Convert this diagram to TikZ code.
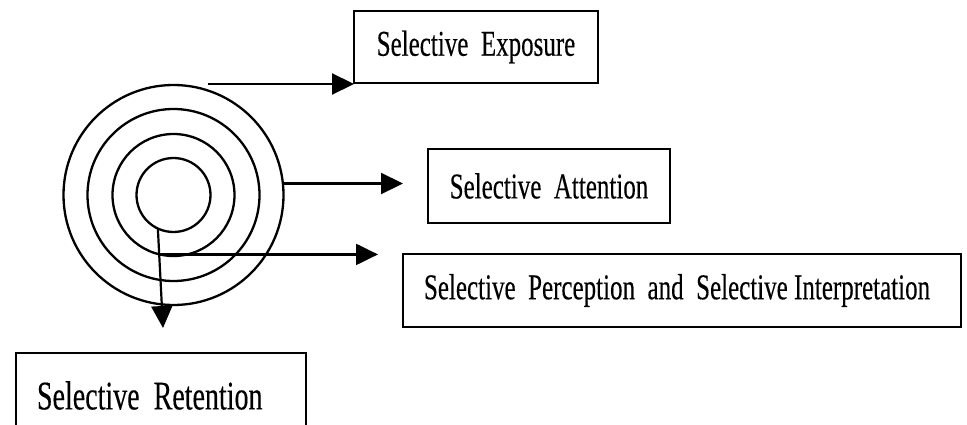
\documentclass[tikz,border=0pt]{standalone}
\usepackage{fontspec}
\usepackage{graphicx}
\setmainfont{Liberation Serif}[FakeBold=0.35]
\usetikzlibrary{arrows.meta}
\newcommand\ws{\hspace{0.5em}}
\newcommand\tall[1]{\scalebox{1}[1.45]{#1}}
\begin{document}
\begin{tikzpicture}[x=1pt,y=-1pt,
  ring/.style={circle, draw, line width=2.3pt, inner sep=0pt, outer sep=0pt},
  labelbox/.style={draw, line width=2.6pt, inner sep=0pt, outer sep=0pt, font=\fontsize{25}{30}\selectfont},
  conn/.style={line width=2.2pt, -{Triangle[length=22pt,width=21pt]}}]
\useasboundingbox (0,0) rectangle (967,425);
\clip (0,0) rectangle (967,425);
% concentric circles
\node[ring, minimum size=220pt] (c1) at (173.5,195) {};
\node[ring, minimum size=172pt] (c2) at (173.5,195) {};
\node[ring, minimum size=122pt] (c3) at (173.5,195) {};
\node[ring, minimum size=74pt] (c4) at (173.5,195) {};
% boxes
\node[labelbox, minimum width=244pt, minimum height=72pt] (exp) at (476,47) {\tall{Selective\ws Exposure}};
\node[labelbox, minimum width=242pt, minimum height=74pt] (att) at (549,186) {\tall{Selective\ws Attention}};
\node[labelbox, minimum width=558pt, minimum height=73pt] (per) at (682,290.5) {\hspace{-10pt}\tall{Selective\ws Perception\ws and\ws Selective Interpretation}};
\node[labelbox, anchor=north west, text width=248pt, align=left, inner xsep=21pt, minimum height=85pt, font=\fontsize{28}{32}\selectfont] (ret) at (16,353) {\tall{Selective\ws Retention}};
% connectors
\coordinate (e0) at (208,84);
\draw[conn] (e0) -- (e0 -| exp.south west);
\coordinate (a1) at (403,183);
\draw[conn] (c1.6) -- (a1 |- c1.6);
\coordinate (p1) at (378,256);
\draw[conn] (c3.257) -- (p1 |- c3.257);
\coordinate (r1) at (163,328);
\draw[conn] (c4.245) -- (r1);
\end{tikzpicture}
\end{document}
